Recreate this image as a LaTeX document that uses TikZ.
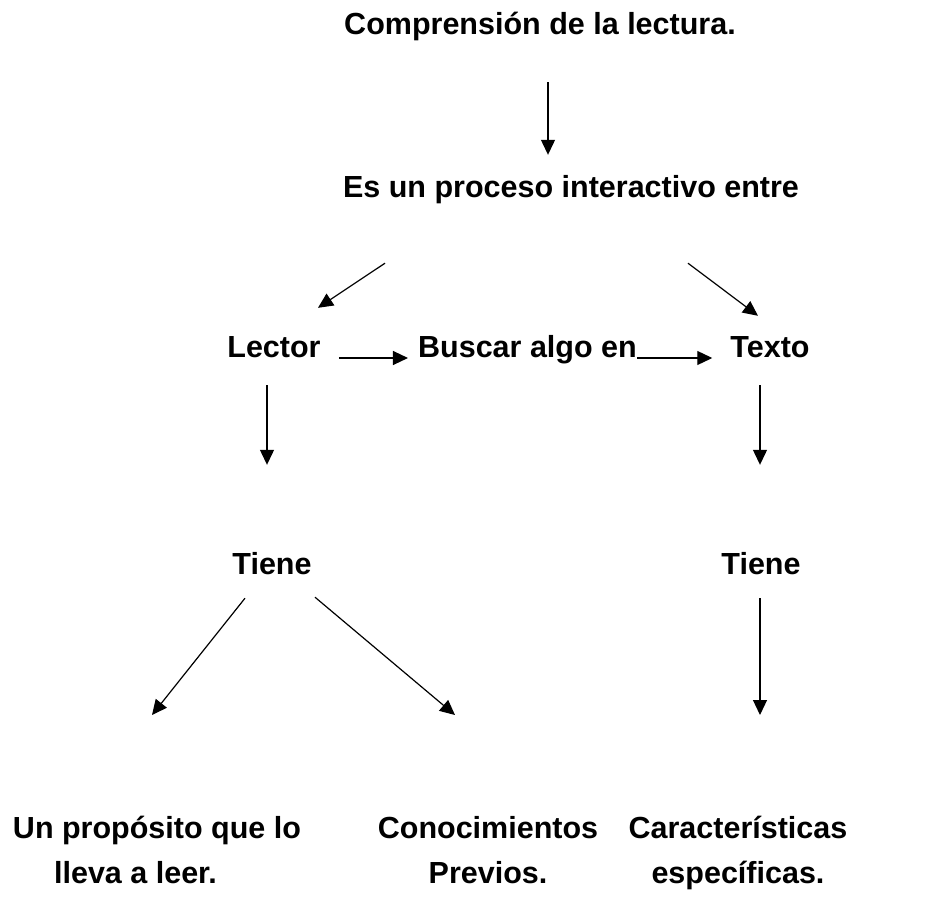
\documentclass[tikz,border=0pt]{standalone}
\usepackage{fontspec}
\setmainfont{Liberation Sans}
\usetikzlibrary{arrows.meta}

\begin{document}
\begin{tikzpicture}[x=1pt,y=-1pt,
    concepto/.style={font=\fontsize{30.5}{45}\selectfont\bfseries,inner sep=0pt,
      text height=22pt,text depth=7pt,anchor=base},
    bloque/.style={font=\fontsize{30.5}{45}\selectfont\bfseries,inner sep=0pt,
      align=center,anchor=base},
    flecha/.style={-{Triangle[length=15pt,width=14pt]},line width=1.2pt}]
  \useasboundingbox (0,0) rectangle (930,899);
  % conceptos
  \node[concepto] (comp) at (540,35) {Comprensión de la lectura.};
  \node[concepto] (proc) at (571,197) {Es un proceso interactivo entre};
  \node[concepto] (lector) at (274,357) {Lector};
  \node[concepto] (buscar) at (527.5,357) {Buscar algo en};
  \node[concepto] (texto) at (770,357) {Texto};
  \node[concepto] (tieneA) at (272,574) {Tiene};
  \node[concepto] (tieneB) at (761,574) {Tiene};
  \node[bloque] (propo) at (157,883) {Un propósito que lo\\lleva a leer.\hspace*{43pt}};
  \node[bloque] (conoc) at (488,883) {Conocimientos\\Previos.};
  \node[bloque] (caract) at (738,883) {Características\\específicas.};
  % flechas
  \draw[flecha] ([xshift=8pt,yshift=-40pt]comp.south) -- ([xshift=-23pt,yshift=20pt]proc.north);
  \draw[flecha] ([xshift=-186pt,yshift=-59pt]proc.south) -- ([xshift=44pt,yshift=27pt]lector.north);
  \draw[flecha] ([xshift=117pt,yshift=-59pt]proc.south) -- ([xshift=-12pt,yshift=19pt]texto.north);
  \draw[flecha] ([xshift=18pt,yshift=-1pt]lector.base east) -- ([xshift=-10pt,yshift=-1pt]buscar.base west);
  \draw[flecha] ([yshift=-1pt]buscar.base east) -- ([xshift=-18pt,yshift=-1pt]texto.base west);
  \draw[flecha] ([xshift=-7pt,yshift=-21pt]lector.south) -- ([xshift=-5pt,yshift=87pt]tieneA.north);
  \draw[flecha] ([xshift=-10pt,yshift=-21pt]texto.south) -- ([xshift=-1pt,yshift=87pt]tieneB.north);
  \draw[flecha] ([xshift=-27pt,yshift=-17pt]tieneA.south) -- ([xshift=-5pt,yshift=168pt]propo.base);
  \draw[flecha] ([xshift=43pt,yshift=-16pt]tieneA.south) -- ([xshift=-33pt,yshift=168pt]conoc.base);
  \draw[flecha] ([xshift=-1pt,yshift=-17pt]tieneB.south) -- ([xshift=22pt,yshift=168pt]caract.base);
\end{tikzpicture}
\end{document}
